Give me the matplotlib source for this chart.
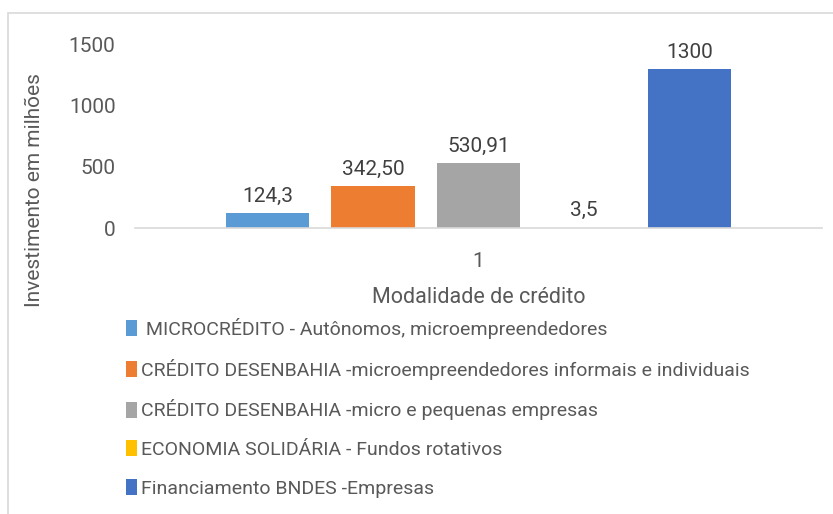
import matplotlib
matplotlib.use('Agg')
import matplotlib.pyplot as plt
from matplotlib.patches import Rectangle

categories = [' MICROCRÉDITO - Autônomos, microempreendedores',
              'CRÉDITO DESENBAHIA -microempreendedores informais e individuais',
              'CRÉDITO DESENBAHIA -micro e pequenas empresas',
              'ECONOMIA SOLIDÁRIA - Fundos rotativos',
              'Financiamento BNDES -Empresas']
values = [124.3, 342.50, 530.91, 3.5, 1300]
labels = ['124,3', '342,50', '530,91', '3,5', '1300']
colors = ['#5B9BD5', '#ED7D31', '#A5A5A5', '#FFC000', '#4472C4']
yticks = [0, 500, 1000, 1500]

plt.rcParams['font.family'] = ['Roboto', 'DejaVu Sans']
txt = '#595959'

W, H = 833, 514
fig = plt.figure(figsize=(W / 100, H / 100), dpi=100)
# outer chart border (Excel chart area)
fig.patches.append(Rectangle((8 / W, -0.1), 1.1, 1 - 13 / H + 0.1, transform=fig.transFigure,
                             fill=False, edgecolor='#D9D9D9', linewidth=1.2))

ax = fig.add_axes([135 / W, 1 - 228 / H, 687 / W, (228 - 45) / H])
step, width = 0.1536, 0.121
for i, (v, c, lab, cat) in enumerate(zip(values, colors, labels, categories)):
    x = (i - 2) * step
    ax.bar(x, v, width=width, color=c, label=cat)
    ax.text(x, v + 60, lab, ha='center', va='bottom', fontsize=15, color='#404040')

ax.set_xlim(-0.5, 0.5)
ax.set_ylim(0, 1500)
ax.set_yticks(yticks)
ax.set_xticks([0])
ax.set_xticklabels(['1'])
ax.tick_params(length=0, labelsize=15, colors=txt)
ax.tick_params(axis='y', pad=14)
ax.tick_params(axis='x', pad=17)
for s in ['top', 'right', 'left']:
    ax.spines[s].set_visible(False)
ax.spines['bottom'].set_color('#D9D9D9')
ax.spines['bottom'].set_linewidth(1.2)
ax.set_xlabel('Modalidade de crédito', fontsize=15.5, color=txt, labelpad=12)
fig.text(35 / W, 1 - 190 / H, 'Investimento em milhões', rotation=90, ha='center', va='center',
         fontsize=15, color=txt)

fig.legend(loc='upper left', bbox_to_anchor=(118 / W, 1 - 310 / H), frameon=False,
           fontsize=14, labelcolor=txt, handlelength=0.6, handleheight=0.9, handletextpad=0.2,
           labelspacing=1.02, borderaxespad=0)

fig.savefig('out.png', dpi=100)
